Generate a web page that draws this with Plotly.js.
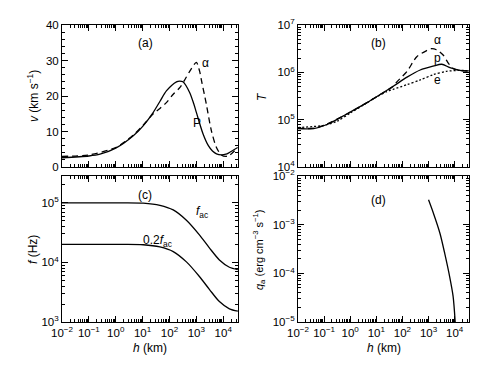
<!DOCTYPE html>
<html><head><meta charset="utf-8">
<script src="https://cdn.plot.ly/plotly-3.0.1.min.js"></script>
<style>html,body{margin:0;padding:0;background:#fff}#chart{width:496px;height:373px}</style>
</head><body><div id="chart"></div>
<script>
// Panel (a): velocity v (km/s) vs height h (km)
const hVelP = [0.01, 0.1, 0.26, 1, 4.5, 10.5, 25, 45, 78, 182, 240, 316, 562, 800, 1000, 1780, 2800, 3980, 5600, 8500, 12600, 17000, 34700];
const vP    = [2.6, 3.1, 3.6, 5.3, 8.8, 11.6, 15.4, 18.6, 21.5, 24.0, 24.2, 24.0, 21.0, 17.8, 15.4, 9.3, 6.0, 4.5, 3.7, 3.4, 3.6, 4.1, 5.5];
const hVelA = [0.01, 0.1, 1, 4.5, 10.5, 25, 44, 78, 138, 250, 400, 630, 1000, 1320, 1550, 2340, 3630, 5600, 8500, 12600, 17000, 34700];
const vA    = [3.0, 3.4, 5.5, 9.0, 11.8, 15.0, 16.5, 18.2, 20.5, 22.5, 25.0, 27.5, 29.5, 27.0, 24.4, 17.8, 10.2, 5.5, 3.4, 3.0, 3.3, 5.5];

// Panel (b): temperature T (K)
const hTP = [0.01, 0.04, 0.13, 0.74, 4.4, 14, 46, 150, 480, 1500, 3200, 6600, 16000, 35000];
const TP  = [6.46e4, 6.5e4, 7.9e4, 1.32e5, 2.29e5, 3.39e5, 5.13e5, 7.94e5, 1.12e6, 1.35e6, 1.48e6, 1.26e6, 1.10e6, 1.07e6];
const hTA = [0.01, 0.04, 0.13, 0.74, 4.4, 14, 46, 60, 150, 355, 850, 1300, 2000, 3700, 5800, 9000, 16000, 35000];
const TA  = [6.6e4, 6.6e4, 8.1e4, 1.32e5, 2.29e5, 3.39e5, 5.13e5, 6.2e5, 1.05e6, 2.14e6, 2.88e6, 3.16e6, 3.0e6, 2.29e6, 1.55e6, 1.2e6, 1.10e6, 1.07e6];
const hTE = [0.01, 0.1, 0.32, 1, 3.2, 10, 25, 46, 150, 480, 1500, 4900, 16000, 35000];
const TE  = [6.8e4, 7.6e4, 9.3e4, 1.38e5, 2.04e5, 3.0e5, 3.9e5, 4.4e5, 5.5e5, 6.9e5, 8.9e5, 1.05e6, 1.10e6, 1.07e6];

// Panel (c): acoustic cutoff frequency
const hF   = [0.01, 1, 10.5, 44, 138, 427, 1300, 3100, 7200, 17000, 35000];
const fAc  = [1.0e5, 1.0e5, 9.9e4, 9.1e4, 7.6e4, 5.1e4, 2.9e4, 1.74e4, 1.1e4, 8.3e3, 7.6e3];
const fAc2 = [2.0e4, 2.0e4, 1.98e4, 1.82e4, 1.52e4, 1.02e4, 5.8e3, 3.5e3, 2.2e3, 1.66e3, 1.52e3];

// Panel (d): heating rate
const hQ = [1000, 1550, 2750, 4170, 6460, 8710, 10500];
const qA = [3.24e-3, 1.7e-3, 6.6e-4, 2.57e-4, 8.5e-5, 3.4e-5, 1.0e-5];

// Tick labels
const xTickVals = [1e-2, 1e-1, 1, 10, 100, 1e3, 1e4];
const xTickText = ['10<sup>−2</sup>','10<sup>−1</sup>','10<sup>0</sup>','10<sup>1</sup>','10<sup>2</sup>','10<sup>3</sup>','10<sup>4</sup>'];
const vTickVals = [0, 10, 20, 30, 40];
const TTickVals = [1e4, 1e5, 1e6, 1e7];
const TTickText = ['10<sup>4</sup>','10<sup>5</sup>','10<sup>6</sup>','10<sup>7</sup>'];
const fTickVals = [1e3, 1e4, 1e5];
const fTickText = ['10<sup>3</sup>','10<sup>4</sup>','10<sup>5</sup>'];
const qTickVals = [1e-5, 1e-4, 1e-3, 1e-2];
const qTickText = ['10<sup>−5</sup>','10<sup>−4</sup>','10<sup>−3</sup>','10<sup>−2</sup>'];

const W = 496, H = 373;
const FONT = {family: 'Liberation Sans, Arial, sans-serif', size: 12, color: '#000'};
const TICKFONT = {family: 'Liberation Sans, Arial, sans-serif', size: 11.5, color: '#000'};
const LW = 1.3;

function line(x, y, xa, ya, dash) {
  return {x: x, y: y, xaxis: xa, yaxis: ya, mode: 'lines', type: 'scatter',
    line: {color: '#000', width: LW, dash: dash || 'solid', shape: 'spline', smoothing: 0.8},
    hoverinfo: 'skip', showlegend: false};
}

const data = [
  line(hVelA, vA, 'x', 'y', '6px,4px'),
  line(hVelP, vP, 'x', 'y'),
  line(hTA, TA, 'x2', 'y2', '6px,4px'),
  line(hTE, TE, 'x2', 'y2', '2px,2px'),
  line(hTP, TP, 'x2', 'y2'),
  line(hF, fAc, 'x3', 'y3'),
  line(hF, fAc2, 'x3', 'y3'),
  line(hQ, qA, 'x4', 'y4')
];

const L = [62/W, 238/W], R = [298/W, 469/W];
const TOP = [1 - 167/H, 1 - 25/H], BOT = [1 - 322/H, 1 - 176/H];

function baseAx(extra) {
  return Object.assign({
    showline: true, linecolor: '#000', linewidth: 1, mirror: 'allticks',
    ticks: 'inside', ticklen: 6, tickwidth: 1, tickcolor: '#000',
    showgrid: false, zeroline: false, tickfont: TICKFONT, fixedrange: true
  }, extra);
}
function xAx(domain, anchor, labels) {
  return baseAx({type: 'log', range: [-2, 4.55], domain: domain, anchor: anchor,
    tickmode: 'array', tickvals: xTickVals, ticktext: xTickText, showticklabels: labels,
    minor: {ticks: 'inside', ticklen: 3, dtick: 'D1', tickcolor: '#000', showgrid: false}});
}
function yLogAx(domain, anchor, range, vals, text) {
  return baseAx({type: 'log', range: range, domain: domain, anchor: anchor,
    tickmode: 'array', tickvals: vals, ticktext: text,
    minor: {ticks: 'inside', ticklen: 3, dtick: 'D1', tickcolor: '#000', showgrid: false}});
}

function ann(text, px, py, extra) {
  return Object.assign({text: text, xref: 'paper', yref: 'paper', x: px / W, y: 1 - py / H,
    xanchor: 'center', yanchor: 'middle', showarrow: false, font: FONT}, extra || {});
}
const SMALL = {family: 'Liberation Sans, Arial, sans-serif', size: 11, color: '#000'};

const layout = {
  width: W, height: H, margin: {l: 0, r: 0, t: 0, b: 0},
  paper_bgcolor: '#fff', plot_bgcolor: '#fff', font: FONT, showlegend: false,
  xaxis: xAx(L, 'y', false),
  yaxis: baseAx({type: 'linear', range: [0, 40], domain: TOP, anchor: 'x',
    tickmode: 'array', tickvals: vTickVals,
    minor: {ticks: 'inside', ticklen: 3, dtick: 2, tickcolor: '#000', showgrid: false}}),
  xaxis2: xAx(R, 'y2', false),
  yaxis2: yLogAx(TOP, 'x2', [4, 7], TTickVals, TTickText),
  xaxis3: xAx(L, 'y3', true),
  yaxis3: yLogAx(BOT, 'x3', [3, 5.45], fTickVals, fTickText),
  xaxis4: xAx(R, 'y4', true),
  yaxis4: yLogAx(BOT, 'x4', [-5, -2], qTickVals, qTickText),
  annotations: [
    ann('(a)', 145, 43), ann('α', 205, 63), ann('P', 197, 123),
    ann('(b)', 378, 43), ann('α', 437, 40), ann('p', 437, 58), ann('e', 437, 80),
    ann('(c)', 145, 195), ann('<i>f</i><sub>ac</sub>', 202, 212),
    ann('0.2<i>f</i><sub>ac</sub>', 157, 241),
    ann('(d)', 378, 200),
    ann('<i>v</i> (km s<sup>−1</sup>)', 33, 96, {textangle: -90}),
    ann('<i>T</i>', 262, 97, {textangle: -90}),
    ann('<i>f</i> (Hz)', 33, 250, {textangle: -90}),
    ann('<i>q</i><sub>a</sub> (erg cm<sup>−3</sup> s<sup>−1</sup>)', 259, 250, {textangle: -90, font: SMALL}),
    ann('<i>h</i> (km)', 150, 348), ann('<i>h</i> (km)', 384, 348)
  ]
};

Plotly.newPlot('chart', data, layout, {staticPlot: true, displayModeBar: false});
</script>
</body></html>
